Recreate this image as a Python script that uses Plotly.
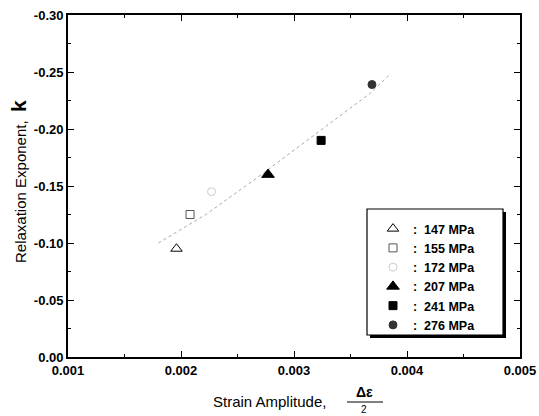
import plotly.graph_objects as go

# ---- data ----
stress_labels = ["147 MPa", "155 MPa", "172 MPa", "207 MPa", "241 MPa", "276 MPa"]
strain_amp = [0.00196, 0.00208, 0.00227, 0.00277, 0.00324, 0.00369]
relax_k = [-0.095, -0.125, -0.145, -0.160, -0.190, -0.239]

fit_x = [0.00180, 0.00222, 0.00267, 0.00322, 0.00367, 0.00384]
fit_y = [-0.100, -0.125, -0.157, -0.198, -0.231, -0.247]

x_ticks = [0.001, 0.002, 0.003, 0.004, 0.005]
x_ticklabels = ["0.001", "0.002", "0.003", "0.004", "0.005"]
y_ticks = [0.0, -0.05, -0.10, -0.15, -0.20, -0.25, -0.30]
y_ticklabels = ["0.00", "-0.05", "-0.10", "-0.15", "-0.20", "-0.25", "-0.30"]

# ---- styles ----
symbols = ["triangle-up-open", "square-open", "circle-open", "triangle-up", "square", "circle"]
colors = ["#000000", "#555555", "#cccccc", "#000000", "#000000", "#333333"]
sizes = [10, 8, 8, 11, 8, 8]

FONT = "Arial, Liberation Sans, sans-serif"

fig = go.Figure()

fig.add_trace(go.Scatter(
    x=fit_x, y=fit_y, mode="lines",
    line=dict(color="#a8a8a8", width=1, dash="dot"),
    showlegend=False, hoverinfo="skip",
))

for lab, xv, yv, sym, col, sz in zip(stress_labels, strain_amp, relax_k, symbols, colors, sizes):
    fig.add_trace(go.Scatter(
        x=[xv], y=[yv], mode="markers", name="<b>:</b>  " + lab,
        marker=dict(symbol=sym, color=col, size=sz, line=dict(color=col, width=1)),
    ))

# plot area in page pixels: x 68..520, y 15..357
L, R, T, B = 68, 520, 15, 357
W, H = R - L, B - T

def px(x):
    return (x - L) / W

def py(y):
    return (B - y) / H

# legend box with shadow
lx0, lx1, ly0, ly1 = 367, 503, 209, 335
shapes = [
    dict(type="rect", xref="paper", yref="paper",
         x0=px(lx0 + 3), x1=px(lx1 + 3), y0=py(ly1 + 3), y1=py(ly0 + 3),
         fillcolor="black", line=dict(width=0), layer="above"),
    dict(type="rect", xref="paper", yref="paper",
         x0=px(lx0), x1=px(lx1), y0=py(ly1), y1=py(ly0),
         fillcolor="white", line=dict(color="black", width=1.2), layer="above"),
    # fraction bar of the x-axis title
    dict(type="line", xref="paper", yref="paper",
         x0=px(347), x1=px(383), y0=py(402), y1=py(402),
         line=dict(color="black", width=1)),
]

annotations = [
    dict(text="Strain Amplitude,", xref="paper", yref="paper",
         x=px(328), y=py(401), xanchor="right", yanchor="middle",
         showarrow=False, font=dict(family=FONT, size=15, color="black")),
    dict(text="<b>Δε</b>", xref="paper", yref="paper",
         x=px(364), y=py(402), xanchor="center", yanchor="bottom",
         showarrow=False, font=dict(family=FONT, size=14, color="black")),
    dict(text="2", xref="paper", yref="paper",
         x=px(364), y=py(402), xanchor="center", yanchor="top",
         showarrow=False, font=dict(family=FONT, size=10, color="black")),
    dict(text="Relaxation Exponent,  <b><span style='font-size:21px'>k</span></b>",
         xref="paper", yref="paper", x=px(18), y=py(182),
         xanchor="center", yanchor="middle", textangle=-90,
         showarrow=False, font=dict(family=FONT, size=15, color="black")),
]

axis_common = dict(
    showline=True, linecolor="black", linewidth=1.8, mirror="ticks",
    ticks="inside", ticklen=6, tickwidth=1.3, tickcolor="black",
    showgrid=False, zeroline=False, automargin=False, ticklabeloverflow="allow",
    tickfont=dict(family=FONT, size=13, color="black", weight="bold"),
)

fig.update_layout(
    width=539, height=416,
    margin=dict(l=L, r=539 - R, t=T, b=416 - B, autoexpand=False),
    paper_bgcolor="white", plot_bgcolor="white",
    xaxis=dict(range=[0.001, 0.005], tickvals=x_ticks, ticktext=x_ticklabels,
               minor=dict(ticks="inside", ticklen=3, tickwidth=1, tickcolor="black",
                          tick0=0.0015, dtick=0.001),
               **axis_common),
    yaxis=dict(range=[0.0, -0.30], tickvals=y_ticks, ticktext=y_ticklabels,
               minor=dict(ticks="inside", ticklen=3, tickwidth=1, tickcolor="black",
                          tick0=-0.025, dtick=0.05),
               **axis_common),
    legend=dict(x=px(lx0 + 6), y=py(ly0 + 5), xanchor="left", yanchor="top",
                bgcolor="rgba(0,0,0,0)", borderwidth=0,
                font=dict(family=FONT, size=12.5, color="black", weight="bold"),
                tracegroupgap=0, itemwidth=30),
    shapes=shapes,
    annotations=annotations,
    showlegend=True,
)

# remove the default page margin so the 539x416 figure fills the window exactly
fig.write_html(
    "out.html",
    config={"displayModeBar": False},
    post_script="document.body.style.margin='0';document.body.style.overflow='hidden';",
)
